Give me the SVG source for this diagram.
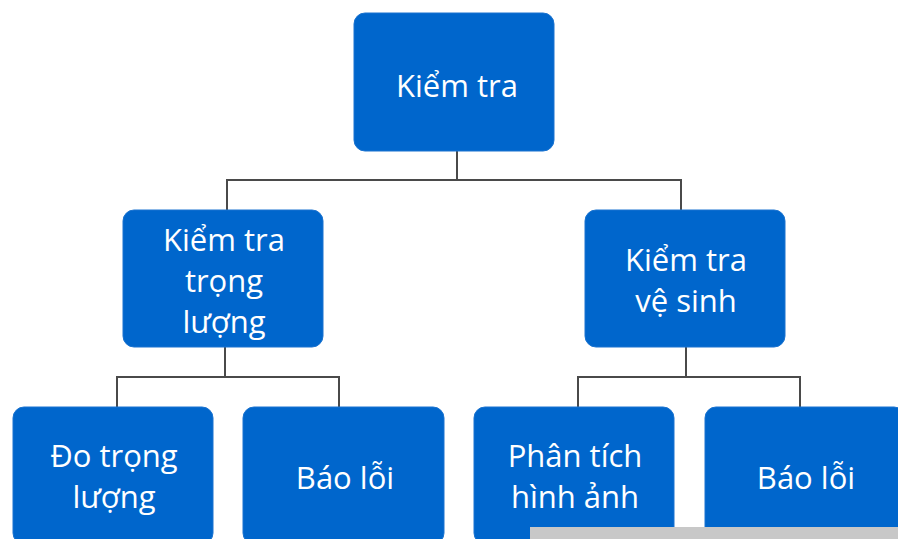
<svg xmlns="http://www.w3.org/2000/svg" width="898" height="539" viewBox="0 0 898 539">
<style>
.box{fill:#0066cc;stroke:#1a73d0;stroke-width:1}
.t{font-family:"Open Sans","Noto Sans","DejaVu Sans",sans-serif;font-size:31px;fill:#ffffff;text-anchor:middle}
.c{fill:none;stroke:#4a4a4a;stroke-width:2}
</style>
<rect width="898" height="539" fill="#ffffff"/>
<g id="connectors">
<path class="c" d="M457 151 V180 M227 210 V180 H681 V210"/>
<path class="c" d="M225 347 V377 M117 407 V377 H339 V407"/>
<path class="c" d="M686 347 V377 M578 407 V377 H800 V407"/>
</g>
<g id="n0"><rect class="box" x="354" y="13" width="200" height="138" rx="11"/><text class="t" x="457" y="97">Kiểm tra</text></g>
<g id="n1"><rect class="box" x="123" y="210" width="200" height="137" rx="11"/><text class="t" x="224" y="251">Kiểm tra</text><text class="t" x="224" y="292">trọng</text><text class="t" x="224" y="333">lượng</text></g>
<g id="n2"><rect class="box" x="585" y="210" width="200" height="137" rx="11"/><text class="t" x="686" y="271">Kiểm tra</text><text class="t" x="686" y="312">vệ sinh</text></g>
<g id="n3"><rect class="box" x="13" y="407" width="200" height="137" rx="11"/><text class="t" x="114" y="467">Đo trọng</text><text class="t" x="114" y="508">lượng</text></g>
<g id="n4"><rect class="box" x="243" y="407" width="201" height="137" rx="11"/><text class="t" x="345" y="489">Báo lỗi</text></g>
<g id="n5"><rect class="box" x="474" y="407" width="200" height="137" rx="11"/><text class="t" x="575" y="467">Phân tích</text><text class="t" x="575" y="508">hình ảnh</text></g>
<g id="n6"><rect class="box" x="705" y="407" width="200" height="137" rx="11"/><text class="t" x="806" y="489">Báo lỗi</text></g>
<rect x="530" y="527" width="368" height="12" fill="#c8c8c8"/>
</svg>
